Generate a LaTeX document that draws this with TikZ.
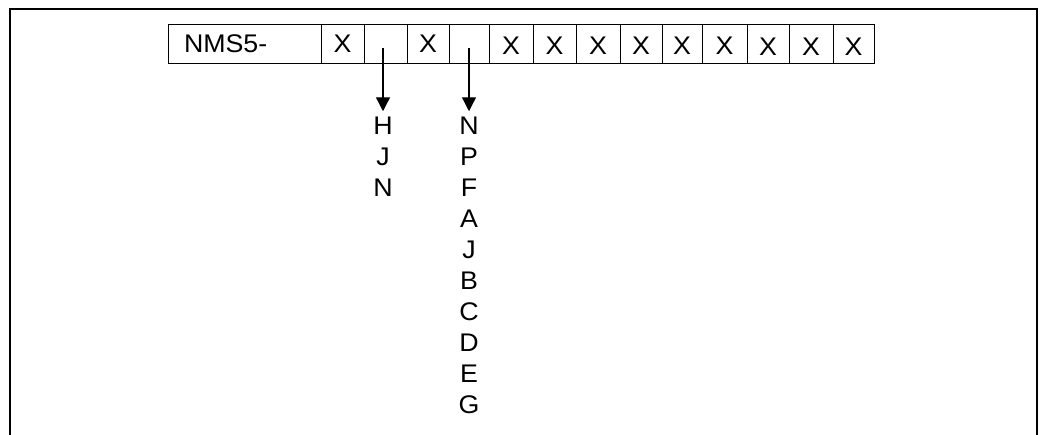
\documentclass[tikz,border=0pt]{standalone}
\usepackage{fontspec}
\setmainfont{Liberation Sans}[FakeStretch=1.05]
\usetikzlibrary{arrows.meta}
\tikzset{
  txt/.style={font=\fontsize{25.5}{30}\selectfont},
  cellbox/.style={draw=black, line width=0.9pt, inner sep=0pt, minimum height=38.5pt, txt},
  letter/.style={inner sep=0pt, anchor=base, txt},
  arr/.style={line width=1.3pt, -{Triangle[length=14pt,width=14pt]}},
  frame/.style={line width=2pt}
}
\begin{document}
\begin{tikzpicture}[x=1pt,y=-1pt]
\useasboundingbox (0,0) rectangle (1043,435);
% outer frame (open at bottom)
\draw[frame] (10,440) -- (10,9) -- (1036.5,9) -- (1036.5,440);
% first cell
\node[cellbox, minimum width=153pt, text width=121pt, inner xsep=16pt, align=left] (c1) at (244.5,43.75) {NMS5-};
% remaining cells
\foreach \l/\r/\t/\d [count=\i from 2] in {321/364/X/0,364/407/{}/0,407/449/X/0,449/489/{}/0,489/533/X/1.5,533/576/X/1.5,576/620/X/1.5,620/662/X/1.5,662/702/X/1.5,702/747/X/1.5,747/789/X/3,789/833/X/3,833/874/X/3}{
  \node[cellbox, minimum width={(\r-\l)*1pt}, label={[txt, inner sep=0pt, yshift=-\d pt]center:\t}] (c\i) at ({(\l+\r)/2},43.75) {};
}
% letter columns
\foreach \t [count=\i] in {H,J,N}{
  \node[letter] (h\i) at (383,{135+(\i-1)*30.9}) {\t};
}
\foreach \t [count=\i] in {N,P,F,A,J,B,C,D,E,G}{
  \node[letter] (n\i) at (469,{135+(\i-1)*30.9}) {\t};
}
% arrows
\coordinate (s1) at (383,48);
\coordinate (s2) at (469,48);
\draw[arr] (s1) -- ([yshift=6pt]h1.north);
\draw[arr] (s2) -- ([yshift=6pt]n1.north);
\end{tikzpicture}
\end{document}
